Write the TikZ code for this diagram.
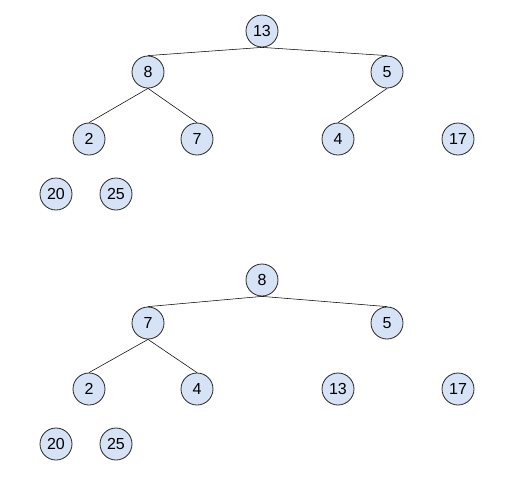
\documentclass[tikz,border=0pt]{standalone}
\usepackage{fontspec}
\setmainfont{Liberation Sans}
\usepackage{tikz}
\definecolor{nodefill}{RGB}{214,226,246}
\tikzset{heapnode/.style={circle,draw=black!85,fill=nodefill,line width=0.6pt,minimum size=24pt,inner sep=0pt,font=\fontsize{12}{14}\selectfont}}

\begin{document}
\begin{tikzpicture}[line cap=round,line join=round,x=0.75pt,y=-0.75pt]
		\useasboundingbox (0,0) rectangle (522,490);
		% heap before
		\node[heapnode] (a13) at (262,31) {13};
		\node[heapnode] (a8) at (148,72) {8};
		\node[heapnode] (a5) at (387,72) {5};
		\node[heapnode] (a2) at (89,139) {2};
		\node[heapnode] (a7) at (197,139) {7};
		\node[heapnode] (a4) at (338,139) {4};
		\node[heapnode] (a17) at (458,139) {17};
		\node[heapnode] (a20) at (56,194) {20};
		\node[heapnode] (a25) at (116,194) {25};
		\draw (a13.south) -- (a8.north);
		\draw (a13.south) -- (a5.north);
		\draw (a8.south) -- (a2.north);
		\draw (a8.south) -- (a7.north);
		\draw (a5.south) -- (a4.north);
		% heap after
		\node[heapnode] (b8) at (262,280) {8};
		\node[heapnode] (b7) at (148,323) {7};
		\node[heapnode] (b5) at (387,323) {5};
		\node[heapnode] (b2) at (89,389) {2};
		\node[heapnode] (b4) at (197,389) {4};
		\node[heapnode] (b13) at (338,389) {13};
		\node[heapnode] (b17) at (458,389) {17};
		\node[heapnode] (b20) at (56,444) {20};
		\node[heapnode] (b25) at (116,444) {25};
		\draw (b8.south) -- (b7.north);
		\draw (b8.south) -- (b5.north);
		\draw (b7.south) -- (b2.north);
		\draw (b7.south) -- (b4.north);
\end{tikzpicture}
\end{document}
